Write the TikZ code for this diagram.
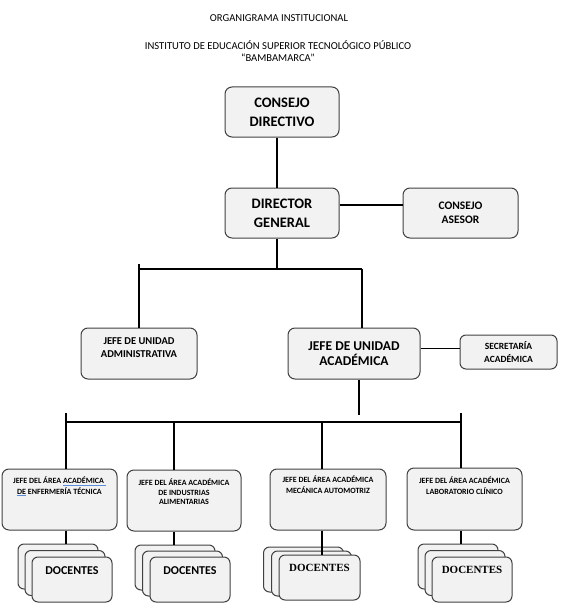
\documentclass[tikz,border=0pt]{standalone}
\usepackage{fontspec}
\setmainfont{Carlito}
\newfontfamily\serifdoc{Liberation Serif}
\usetikzlibrary{positioning}
\definecolor{boxfill}{HTML}{F2F2F2}
\definecolor{boxline}{HTML}{404040}
\definecolor{spellblue}{HTML}{5B8BD9}
\newcommand{\toptext}[4]{\parbox[c][#1][t]{#2}{\centering\vspace{#3}\strut#4\par}}
\newcommand{\spell}[1]{{\color{spellblue}\underline{\color{black}#1}}}
\tikzset{
  unit/.style={draw=boxline, fill=boxfill, line width=1pt, rounded corners=7pt, inner sep=0pt, align=center},
  headunit/.style={unit, minimum width=114pt, minimum height=50pt, font=\fontsize{14.5}{19}\selectfont\bfseries},
  areaunit/.style={unit, font=\fontsize{8}{9.5}\selectfont\bfseries},
  card/.style={draw=boxline, fill=boxfill, line width=1pt, rounded corners=6pt, minimum width=80pt, minimum height=45pt, inner sep=0pt},
  link/.style={line width=1.3pt, black}
}
\begin{document}
\begin{tikzpicture}[x=1pt, y=-1pt]
    \useasboundingbox (0,0) rectangle (567,615);
    % titles
    \node[font=\fontsize{10.6}{12}\selectfont] (title) at (279,18) {ORGANIGRAMA INSTITUCIONAL};
    \node[font=\fontsize{10.6}{12}\selectfont, align=center] (inst) at (278,51) {INSTITUTO DE EDUCACIÓN SUPERIOR TECNOLÓGICO PÚBLICO\\“BAMBAMARCA”};
    % direction
    \node[headunit] (consejo) at (282,112) {CONSEJO\\DIRECTIVO};
    \node[headunit] (director) at (282,213) {DIRECTOR\\GENERAL};
    \node[unit, minimum width=115pt, minimum height=50pt, font=\fontsize{11.5}{14}\selectfont\bfseries] (asesor) at (460.5,213) {CONSEJO\\ASESOR};
    % units
    \node[unit, font=\fontsize{10.5}{13}\selectfont\bfseries] (admin) at (139,353.5) {\toptext{51pt}{116pt}{7pt}{JEFE DE UNIDAD\\ADMINISTRATIVA}};
    \node[unit, minimum width=132pt, minimum height=51pt, font=\fontsize{13.5}{15.5}\selectfont\bfseries] (academica) at (354,353.5) {JEFE DE UNIDAD\\ACADÉMICA};
    \node[unit, minimum width=97pt, minimum height=34pt, rounded corners=6pt, font=\fontsize{9.5}{12.5}\selectfont\bfseries] (secretaria) at (508.5,352) {SECRETARÍA\\ACADÉMICA};
    % areas
    \node[areaunit] (enfermeria) at (59.5,499.5) {\toptext{61pt}{115pt}{8pt}{JEFE DEL ÁREA \spell{ACADÉMICA }\\\spell{DE} ENFERMERÍA TÉCNICA}};
    \node[areaunit] (industrias) at (184,500.5) {\toptext{61pt}{114pt}{9pt}{JEFE DEL ÁREA ACADÉMICA\\DE INDUSTRIAS\\ALIMENTARIAS}};
    \node[areaunit] (mecanica) at (328,499.5) {\toptext{61pt}{116pt}{7pt}{JEFE DEL ÁREA ACADÉMICA\\MECÁNICA AUTOMOTRIZ}};
    \node[areaunit] (laboratorio) at (464.5,499) {\toptext{62pt}{115pt}{9pt}{JEFE DEL ÁREA ACADÉMICA\\LABORATORIO CLÍNICO}};
    % docentes
    \foreach \name/\cx/\cy/\dx/\dy in {enf/72/579.5/7/6.5, ind/190/579.5/7.5/6, mec/319.5/577.5/8/4, lab/472/579.5/7/6.5} {
        \node[card] (\name-back) at ({\cx-2*\dx},{\cy-2*\dy}) {};
        \node[card] (\name-mid) at ({\cx-\dx},{\cy-\dy}) {};
    }
    \node[card, font=\fontsize{12}{14}\selectfont\bfseries] (enfdoc) at (72,579.5) {\toptext{45pt}{80pt}{8pt}{DOCENTES}};
    \node[card, font=\fontsize{12}{14}\selectfont\bfseries] (inddoc) at (190,579.5) {\toptext{45pt}{80pt}{8pt}{DOCENTES}};
    \node[card, font=\fontsize{11}{13}\serifdoc\bfseries] (mecdoc) at (319.5,577.5) {\toptext{45pt}{81pt}{7.5pt}{DOCENTES}};
    \node[card, font=\fontsize{11}{13}\serifdoc\bfseries] (labdoc) at (472,579.5) {\toptext{45pt}{80pt}{7.5pt}{DOCENTES}};
    % connectors
    \coordinate (trunk) at (277,269);
    \coordinate (busl) at (139,269);
    \coordinate (busr) at (362,269);
    \coordinate (gap) at (359,415);
    \coordinate (bus2l) at (66,422);
    \coordinate (bus2r) at (461,422);
    \draw[link] (consejo.south -| trunk) -- (director.north -| trunk);
    \draw[link] ([yshift=8pt]director.east) -- ([yshift=8pt]director.east -| asesor.west);
    \draw[link] (director.south -| trunk) -- (trunk);
    \draw[link] (busl) -- (busr);
    \draw[link] ([yshift=5pt]busl) -- (admin.north -| busl);
    \draw[link] (busr) -- (academica.north -| busr);
    \draw[link] ([yshift=5pt]academica.east) -- ([yshift=5pt]academica.east -| secretaria.west);
    \draw[link] (academica.south -| gap) -- (gap);
    \draw[link] (bus2l) -- (bus2r);
    \draw[link] ([yshift=9pt]bus2l) -- (bus2l);
    \draw[link] ([yshift=9pt]bus2r) -- (bus2r);
    \foreach \area/\lx/\stack in {enfermeria/66/enf-back, industrias/174/ind-back, mecanica/322/mecdoc, laboratorio/461/lab-back} {
        \draw[link] (\lx,422) -- (\lx,0 |- \area.north);
        \draw[link] (\lx,0 |- \area.south) -- (\lx,0 |- \stack.north);
    }
\end{tikzpicture}
\end{document}
